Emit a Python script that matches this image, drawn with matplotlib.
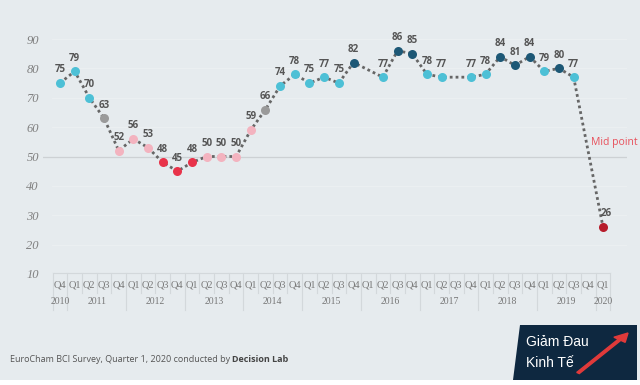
import matplotlib
matplotlib.use("Agg")
import matplotlib.pyplot as plt
from matplotlib.patches import Polygon, Rectangle, FancyArrow
import numpy as np

quarters = ["Q4"] + ["Q1", "Q2", "Q3", "Q4"] * 9 + ["Q1"]
years = ["2010", "2011", "2012", "2013", "2014", "2015", "2016", "2017", "2018", "2019", "2020"]
year_quarter_counts = [1, 4, 4, 4, 4, 4, 4, 4, 4, 4, 1]
bci = [75, 79, 70, 63, 52, 56, 53, 48, 45, 48, 50, 50, 50, 59, 66, 74, 78,
       75, 77, 75, 82, None, 77, 86, 85, 78, 77, None, 77, 78, 84, 81, 84,
       79, 80, 77, None, 26]
mid_point = 50
y_ticks = [10, 20, 30, 40, 50, 60, 70, 80, 90]

BG = "#E6EBEE"
W, H = 640, 385
fig = plt.figure(figsize=(W / 100, H / 100), dpi=100, facecolor=BG)

# axes geometry in pixels
ax_left, ax_right = 43, 627
ax_top, ax_bottom = 39, 274
x0_px, dx_px = 60.0, (603 - 60) / 37.0
ax = fig.add_axes([ax_left / W, (H - ax_bottom) / H, (ax_right - ax_left) / W, (ax_bottom - ax_top) / H])
ax.set_facecolor(BG)
ax.set_xlim((ax_left - x0_px) / dx_px, (ax_right - x0_px) / dx_px)
ax.set_ylim(10, 90)
for s in ax.spines.values():
    s.set_visible(False)
ax.set_xticks([])
ax.set_yticks(y_ticks)
ax.tick_params(axis="y", length=0, pad=3)
for lab in ax.get_yticklabels():
    lab.set_fontfamily("Liberation Serif")
    lab.set_fontstyle("italic")
    lab.set_fontsize(9)
    lab.set_color("#808080")

xl = ax.get_xlim()
for v in y_ticks[1:]:
    if v == mid_point:
        ax.plot(xl, [v, v], color="#CDD1D4", lw=0.9, zorder=1)
    else:
        ax.plot([(52 - x0_px) / dx_px, xl[1]], [v, v], color="#EDF0F2", lw=0.6, zorder=1)

ax.text((627 - x0_px) / dx_px + 0.75, mid_point + 2.8, "Mid point", color="#E8505B",
        fontsize=7.5, ha="right", va="bottom", family="Open Sans", clip_on=False)

x = np.arange(len(bci))
vals = np.array([np.nan if v is None else v for v in bci], dtype=float)
mask = ~np.isnan(vals)
ax.plot(x[mask], vals[mask], color="#666666", lw=2.0, ls=(0, (1, 1.1)), zorder=2)


def col(v):
    if v < 30:
        return "#B71C2B"
    if v < 50:
        return "#E8334A"
    if v < 60:
        return "#F3B3BF"
    if v < 70:
        return "#9A9A9A"
    if v < 80:
        return "#4DC0D6"
    return "#1D5876"


for xi, v in zip(x[mask], vals[mask]):
    ax.plot(xi, v, "o", ms=6.5, color=col(v), mec="none", zorder=3)
    dxo = 0.25 if v < 30 else 0
    ax.text(xi + dxo, v + 2.6, f"{int(v)}", ha="center", va="bottom", fontsize=7,
            fontweight="bold", color="#555555", family="Open Sans", zorder=4)

# table-like x axis
def ypx(py):
    return 10 + (ax_bottom - py) * 80 / (ax_bottom - ax_top)

line_c = "#D3D8DB"
tx0 = -0.5
tx1 = len(bci) - 0.5
ax.plot([tx0, tx1], [ypx(273), ypx(273)], color=line_c, lw=0.8, clip_on=False)
year_bounds = np.cumsum([0] + year_quarter_counts) - 0.5
for b in np.arange(tx0, tx1 + 0.01, 1.0):
    bottom = 310 if np.any(np.isclose(year_bounds, b)) else 293
    ax.plot([b, b], [ypx(273), ypx(bottom)], color=line_c, lw=0.8, clip_on=False)
for xi, q in enumerate(quarters):
    ax.text(xi, ypx(285), q, ha="center", va="center", fontsize=7.5,
            family="Liberation Serif", color="#777777", clip_on=False)
for i, yr in enumerate(years):
    c = (year_bounds[i] + year_bounds[i + 1]) / 2
    ax.text(c, ypx(302), yr, ha="center", va="center", fontsize=7,
            family="Liberation Serif", color="#777777", clip_on=False)

# caption
t1 = fig.text(10 / W, 1 - 360 / H, "EuroCham BCI Survey, Quarter 1, 2020 conducted by ",
              fontsize=6.5, color="#555555", family="Open Sans", va="center", ha="left")
fig.canvas.draw()
bb = t1.get_window_extent()
fig.text(bb.x1 / W, 1 - 360 / H, "Decision Lab", fontsize=6.5, color="#444444",
         family="Open Sans", fontweight="bold", va="center", ha="left")

# logo
logo = Polygon([[520 / W, 1 - 325 / H], [637 / W, 1 - 325 / H], [637 / W, 1 - 380 / H], [513 / W, 1 - 380 / H]],
               closed=True, transform=fig.transFigure, facecolor="#0E2840", edgecolor="none")
fig.patches.append(logo)
fig.text(526 / W, 1 - 342 / H, "Giảm Đau", fontsize=10, color="white",
         family="Liberation Sans", va="center", ha="left")
fig.text(526 / W, 1 - 363 / H, "Kinh Tế", fontsize=10, color="white",
         family="Liberation Sans", va="center", ha="left")
ar = FancyArrow(578 / W, 1 - 373 / H, 50 / W, 40 / H, width=0.005, head_width=0.022, head_length=0.022,
                transform=fig.transFigure, color="#E03A3A", length_includes_head=True)
fig.patches.append(ar)
fig.patches.append(Rectangle((0, 0), 1, 5 / H, transform=fig.transFigure, facecolor="white", edgecolor="none"))

fig.savefig("out.png", dpi=100, facecolor=BG)
